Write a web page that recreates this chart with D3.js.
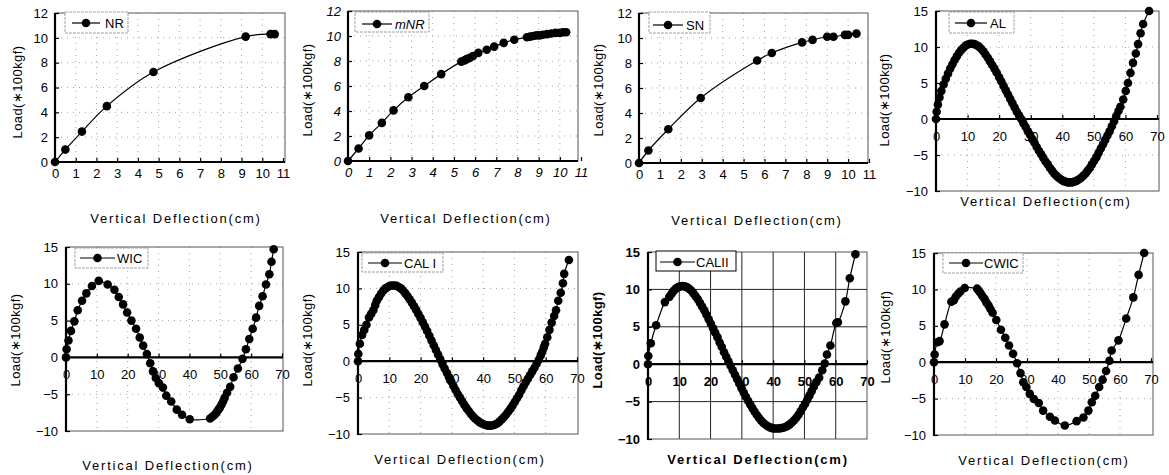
<!DOCTYPE html>
<html><head><meta charset="utf-8">
<script src="https://cdn.jsdelivr.net/npm/d3@7"></script>
<style>
body{margin:0;background:#fff;}
svg text{font-family:"Liberation Sans",Arial,sans-serif;fill:#000;}
</style></head><body>
<svg id="c" width="1169" height="475"></svg>
<script>
// ---------- tick values ----------
const xTicksSmall=[0,1,2,3,4,5,6,7,8,9,10,11];
const yTicksSmall=[0,2,4,6,8,10,12];
const xTicksCyc=[0,10,20,30,40,50,60,70];
const yTicksCyc=[-10,-5,0,5,10,15];
const xTitle="Vertical Deflection(cm)";
const yTitle="Load(\u2217100kgf)";

// ---------- series (deflection cm, load *100kgf) ----------
const NR=[[0,0],[0.5,1.0],[1.3,2.45],[2.5,4.5],[4.75,7.25],[9.2,10.1],[10.4,10.3],[10.6,10.3]];
const mNR=[[0,0],[0.5,1.0],[1.0,2.05],[1.6,3.05],[2.15,4.05],[2.85,5.1],[3.6,6.0],[4.4,6.95],[5.35,7.95],[5.5,8.05],[5.6,8.15],[5.75,8.25],[5.9,8.4],[6.15,8.65],[6.55,8.9],[6.9,9.15],[7.35,9.45],[7.85,9.7],[8.45,9.9],[8.6,9.95],[8.75,10.0],[8.9,10.05],[9.05,10.05],[9.2,10.1],[9.4,10.15],[9.6,10.2],[9.8,10.25],[10.0,10.25],[10.15,10.3],[10.3,10.3]];
const SN=[[0,0],[0.45,1.0],[1.4,2.7],[2.95,5.2],[5.65,8.2],[6.35,8.8],[7.8,9.65],[8.3,9.85],[9.0,10.1],[9.3,10.1],[9.85,10.25],[10.0,10.25],[10.4,10.35]];
const AL=[[0,0],[0.2,1.0],[0.6,2.0],[1.1,3.0],[1.7,3.9],[2.4,4.8],[3.1,5.6],[3.8,6.3],[4.5,7.0],[5.2,7.6],[5.9,8.2],[6.6,8.7],[7.3,9.2],[8.0,9.6],[8.7,9.9],[9.4,10.2],[10.1,10.35],[10.8,10.45],[11.5,10.45],[12.2,10.4],[12.9,10.25],[13.6,10.05],[14.3,9.75],[15.0,9.4],[15.7,8.95],[16.4,8.5],[17.1,8.0],[17.8,7.5],[18.5,7.0],[19.2,6.45],[20.0,5.8],[20.7,5.2],[21.4,4.6],[22.1,4.0],[22.8,3.4],[23.5,2.8],[24.2,2.2],[24.9,1.6],[25.6,1.0],[26.3,0.5],[27.0,0.0],[27.7,-0.6],[28.4,-1.1],[29.1,-1.7],[29.8,-2.2],[30.5,-2.8],[31.2,-3.3],[31.9,-3.9],[32.6,-4.4],[33.3,-4.9],[34.0,-5.4],[34.7,-5.9],[35.4,-6.3],[36.1,-6.8],[36.8,-7.2],[37.5,-7.6],[38.2,-7.9],[38.9,-8.2],[39.6,-8.4],[40.3,-8.6],[41.0,-8.7],[41.7,-8.8],[42.4,-8.8],[43.1,-8.8],[43.8,-8.7],[44.5,-8.6],[45.2,-8.4],[45.9,-8.2],[46.6,-7.9],[47.3,-7.6],[48.0,-7.2],[48.7,-6.8],[49.4,-6.3],[50.1,-5.8],[50.8,-5.3],[51.5,-4.7],[52.2,-4.1],[52.9,-3.5],[53.6,-2.9],[54.3,-2.3],[55.0,-1.7],[55.7,-1.0],[56.4,-0.3],[57.1,0.4],[57.8,1.1],[58.4,1.7],[59.3,2.7],[60.1,3.9],[60.8,5.0],[61.6,6.4],[62.4,7.8],[63.3,9.1],[64.0,10.4],[64.8,11.9],[65.6,13.2],[67.5,15.0]];
const WIC=[[0,0],[0.2,1.1],[0.8,2.3],[1.6,3.6],[2.7,4.9],[3.8,6.4],[5.2,7.7],[6.6,8.7],[8.4,9.7],[10.6,10.4],[13.5,9.9],[15.7,9.2],[17.1,8.2],[18.5,7.2],[19.8,6.1],[21.2,5.0],[22.7,3.9],[23.9,2.7],[25.0,1.6],[26.2,0.45],[27.3,-0.8],[28.2,-1.9],[29.1,-2.8],[30.1,-3.5],[31.4,-4.1],[32.5,-5.2],[34.1,-6.0],[35.9,-7.1],[37.6,-7.8],[40.1,-8.4],[46.7,-8.3],[47.3,-8.1],[47.9,-7.9],[48.4,-7.7],[48.9,-7.4],[49.4,-7.1],[49.9,-6.8],[50.4,-6.4],[50.9,-6.0],[51.4,-5.5],[52.2,-4.8],[53.2,-4.0],[54.3,-2.7],[55.7,-1.5],[57.2,-0.2],[58.3,1.1],[59.4,2.5],[60.5,3.9],[61.6,5.4],[62.6,7.0],[63.7,8.3],[64.8,9.9],[65.9,11.3],[66.6,13.0],[67.3,14.7]];
const CALI=[[0,0],[0.1,1.0],[0.6,2.4],[1.3,3.6],[2.0,4.3],[2.7,5.0],[3.5,6.0],[4.2,6.5],[4.9,7.0],[5.5,7.7],[6.0,8.3],[6.7,8.8],[7.4,9.3],[8.1,9.7],[8.8,10.0],[9.5,10.2],[10.2,10.35],[10.9,10.4],[11.6,10.4],[12.3,10.35],[13.0,10.2],[13.7,10.0],[14.4,9.7],[15.1,9.35],[15.8,8.95],[16.5,8.5],[17.2,8.05],[17.9,7.55],[18.6,7.05],[19.3,6.5],[20.0,5.95],[20.7,5.35],[21.4,4.75],[22.1,4.15],[22.8,3.5],[23.5,2.85],[24.2,2.2],[24.9,1.55],[25.6,0.9],[26.3,0.25],[27.0,-0.4],[27.7,-1.0],[28.4,-1.6],[29.1,-2.2],[29.8,-2.8],[30.5,-3.4],[31.2,-3.95],[31.9,-4.5],[32.6,-5.0],[33.3,-5.5],[34.0,-6.0],[34.7,-6.45],[35.4,-6.85],[36.1,-7.25],[36.8,-7.6],[37.5,-7.9],[38.2,-8.15],[38.9,-8.4],[39.6,-8.55],[40.3,-8.7],[41.0,-8.8],[41.7,-8.85],[42.4,-8.85],[43.1,-8.8],[43.8,-8.7],[44.5,-8.55],[45.2,-8.3],[45.9,-8.0],[46.6,-7.7],[47.3,-7.35],[48.0,-6.95],[48.7,-6.55],[49.4,-6.1],[50.1,-5.6],[50.8,-5.1],[51.5,-4.6],[52.2,-4.0],[52.9,-3.45],[53.6,-2.9],[54.3,-2.4],[55.0,-1.9],[55.7,-1.4],[56.4,-0.9],[57.1,-0.35],[57.8,0.2],[58.4,0.8],[58.9,1.3],[59.4,1.9],[59.8,2.4],[60.5,3.3],[61.2,4.3],[61.9,5.3],[62.7,6.2],[63.3,7.0],[64.0,8.3],[64.8,9.4],[65.5,10.7],[65.9,12.0],[67.4,13.9]];
const CALII=[[0,0],[0.1,1.1],[0.9,2.8],[2.6,5.2],[5.4,8.3],[6.8,9.0],[7.5,9.4],[8.2,9.8],[8.9,10.1],[9.6,10.3],[10.3,10.4],[11.0,10.45],[11.7,10.4],[12.4,10.3],[13.1,10.1],[13.8,9.85],[14.5,9.5],[15.2,9.1],[15.9,8.7],[16.6,8.2],[17.3,7.7],[18.0,7.2],[18.7,6.6],[19.4,6.0],[20.1,5.4],[20.8,4.8],[21.5,4.2],[22.2,3.6],[22.9,2.9],[23.6,2.3],[24.3,1.6],[25.0,1.0],[25.7,0.4],[26.4,-0.2],[27.1,-0.8],[27.8,-1.4],[28.5,-2.0],[29.2,-2.6],[29.9,-3.2],[30.6,-3.8],[31.3,-4.35],[32.0,-4.9],[32.7,-5.4],[33.4,-5.9],[34.1,-6.35],[34.8,-6.8],[35.5,-7.2],[36.2,-7.55],[36.9,-7.85],[37.6,-8.1],[38.3,-8.3],[39.0,-8.45],[39.7,-8.55],[40.4,-8.6],[41.1,-8.6],[41.8,-8.6],[42.5,-8.55],[43.2,-8.5],[43.9,-8.4],[44.6,-8.25],[45.3,-8.05],[46.0,-7.8],[46.7,-7.5],[47.4,-7.15],[48.1,-6.75],[48.8,-6.3],[49.5,-5.8],[50.2,-5.3],[50.9,-4.75],[51.6,-4.2],[52.3,-3.6],[53.0,-3.0],[53.8,-2.4],[54.7,-1.8],[55.7,-0.8],[56.5,0.1],[57.2,1.3],[58.3,2.5],[60.2,5.5],[60.7,5.6],[63.1,8.4],[64.5,11.5],[66.3,14.7]];
const CWIC=[[0,0],[0.2,1.05],[1.1,2.75],[1.8,2.9],[3.4,5.2],[5.6,8.3],[6.4,8.5],[7.0,9.0],[7.8,9.4],[8.5,9.7],[9.9,10.2],[13.9,10.1],[14.5,9.8],[15.0,9.5],[15.6,9.1],[16.3,8.7],[16.9,8.2],[17.6,7.8],[18.2,7.3],[18.9,6.8],[20.1,5.8],[21.6,4.45],[23.0,3.35],[24.2,2.3],[25.5,1.15],[26.8,-0.15],[27.9,-1.5],[28.8,-2.75],[29.8,-3.4],[30.9,-4.35],[32.2,-5.05],[33.8,-5.6],[35.2,-6.65],[37.4,-7.5],[39.0,-8.0],[42.2,-8.7],[46.0,-8.1],[48.2,-7.6],[49.8,-6.65],[50.9,-5.5],[52.0,-4.6],[53.3,-3.4],[54.4,-2.4],[55.5,-1.2],[56.6,0.2],[57.3,1.6],[59.5,3.0],[62.0,6.0],[64.3,8.9],[66.0,12.0],[67.8,15.0]];

// ---------- layout ----------
const panels=[
 {name:"NR",data:NR,kind:"s",xr:[55,283],yr:[162,13],right:285,yl:[17,92],tl:[176,218],
  lg:{bx:65,by:12,bw:63,bh:21,l1:72,l2:100,ly:23,tx:105}},
 {name:"mNR",data:mNR,kind:"s",xr:[348,581],yr:[161,11],right:578,yl:[307,90],tl:[466,218],italic:true,
  lg:{bx:355,by:12,bw:74,bh:20,l1:362,l2:392,ly:24,tx:395}},
 {name:"SN",data:SN,kind:"s",xr:[639,869],yr:[163,13],right:868,yl:[598,90],tl:[757,220],
  lg:{bx:649,by:12,bw:61,bh:21,l1:653,l2:683,ly:25,tx:686}},
 {name:"AL",data:AL,kind:"c",xr:[936,1157],yr:[191,11],right:1159,yl:[884,100],tl:[1046,201],
  lg:{bx:949,by:12,bw:65,bh:21,l1:955,l2:987,ly:23,tx:990}},
 {name:"WIC",data:WIC,kind:"c",xr:[66,282],yr:[431,247],right:283,yl:[15,340],tl:[168,465],
  lg:{bx:75,by:248,bw:73,bh:20,l1:80,l2:115,ly:258,tx:117}},
 {name:"CAL I",data:CALI,kind:"c",xr:[358,577],yr:[434,252],right:578,yl:[307,340],tl:[460,459],
  lg:{bx:362,by:253,bw:81,bh:19,l1:368,l2:402,ly:263,tx:404}},
 {name:"CALII",data:CALII,kind:"c",xr:[648,867],yr:[439,252],right:867,yl:[597,340],tl:[758,459],bold:true,solid:true,
  lg:{bx:656,by:251,bw:80,bh:20,l1:660,l2:695,ly:262,tx:696}},
 {name:"CWIC",data:CWIC,kind:"c",xr:[934,1151],yr:[435,253],right:1153,yl:[885,337],tl:[1044,460],
  lg:{bx:943,by:253,bw:80,bh:20,l1:949,l2:983,ly:263,tx:984}}
];

const svg=d3.select("#c");
const R=4.3;

panels.forEach(p=>{
  const isS=p.kind==="s";
  const xd=isS?[0,11]:[0,70], yd=isS?[0,12]:[-10,15];
  const xs=d3.scaleLinear().domain(xd).range(p.xr);
  const ys=d3.scaleLinear().domain(yd).range(p.yr);
  const xt=isS?xTicksSmall:xTicksCyc, yt=isS?yTicksSmall:yTicksCyc;
  const left=p.xr[0], right=p.right, top=ys(yd[1]), bottom=ys(yd[0]);
  const zeroY=ys(0);
  const fw=p.bold?"bold":"normal";
  const g=svg.append("g");

  // grid
  const gridStroke=p.solid?"#222":"#9a9a9a";
  const gridDash=p.solid?null:"1,5";
  g.selectAll("line.gx").data(xt.filter(v=>v>xd[0]&&xs(v)<right-3)).join("line")
    .attr("x1",d=>xs(d)).attr("x2",d=>xs(d)).attr("y1",top).attr("y2",bottom)
    .attr("stroke",gridStroke).attr("stroke-width",p.solid?1:0.9).attr("stroke-dasharray",gridDash);
  g.selectAll("line.gy").data(yt.filter(v=>v>yd[0]&&v<yd[1]&&v!==0)).join("line")
    .attr("x1",left).attr("x2",right).attr("y1",d=>ys(d)).attr("y2",d=>ys(d))
    .attr("stroke",gridStroke).attr("stroke-width",p.solid?1:0.9).attr("stroke-dasharray",gridDash);

  // plot border
  g.append("rect").attr("x",left).attr("y",top).attr("width",right-left).attr("height",bottom-top)
    .attr("fill","none").attr("stroke","#555").attr("stroke-width",1);

  // axes
  const ax=g.append("g").attr("transform",`translate(0,${zeroY})`)
    .call(d3.axisBottom(xs).tickValues(xt).tickSize(-4).tickPadding(isS?6.5:12.5));
  const ay=g.append("g").attr("transform",`translate(${left},0)`)
    .call(d3.axisLeft(ys).tickValues(yt).tickSize(-4).tickPadding(isS?7:8));
  [ax,ay].forEach(a=>{
    a.select(".domain").remove();
    a.attr("font-family",null).attr("font-size",null);
    a.selectAll("line").attr("stroke","#000").attr("stroke-width",1.2);
    a.selectAll("text").style("font-size","13px").style("font-weight",fw)
      .style("font-style",p.italic?"italic":"normal").attr("fill","#000");
  });

  // thick axis lines
  g.append("line").attr("x1",left).attr("x2",left).attr("y1",top).attr("y2",bottom+1)
    .attr("stroke","#000").attr("stroke-width",2.2);
  g.append("line").attr("x1",left).attr("x2",right).attr("y1",zeroY).attr("y2",zeroY)
    .attr("stroke","#000").attr("stroke-width",2.2);

  // series line + markers
  const line=d3.line().x(d=>xs(d[0])).y(d=>ys(d[1])).curve(d3.curveCatmullRom.alpha(0.5));
  g.append("path").datum(p.data).attr("d",line).attr("fill","none")
    .attr("stroke","#000").attr("stroke-width",1.2);
  g.selectAll("circle.m").data(p.data).join("circle")
    .attr("cx",d=>xs(d[0])).attr("cy",d=>ys(d[1])).attr("r",R).attr("fill","#000");

  // legend
  const L=p.lg;
  g.append("rect").attr("x",L.bx).attr("y",L.by).attr("width",L.bw).attr("height",L.bh)
    .attr("fill","#fff").attr("stroke",p.solid?"#000":"#888").attr("stroke-width",p.solid?1:0.8)
    .attr("stroke-dasharray",p.solid?null:"3,1");
  g.append("line").attr("x1",L.l1).attr("x2",L.l2).attr("y1",L.ly).attr("y2",L.ly)
    .attr("stroke","#000").attr("stroke-width",1.2);
  g.append("circle").attr("cx",(L.l1+L.l2)/2).attr("cy",L.ly).attr("r",R).attr("fill","#000");
  g.append("text").attr("x",L.tx).attr("y",L.ly).attr("dy","0.35em")
    .style("font-size","13px").style("font-style",p.italic?"italic":"normal").text(p.name);

  // titles
  g.append("text").attr("x",p.tl[0]).attr("y",p.tl[1]).attr("dy","0.35em").attr("text-anchor","middle")
    .style("font-size","13px").style("letter-spacing","1.8px").style("font-weight",fw).text(xTitle);
  g.append("text").attr("transform",`translate(${p.yl[0]},${p.yl[1]}) rotate(-90)`)
    .attr("dy","0.35em").attr("text-anchor","middle")
    .style("font-size","13px").style("letter-spacing","0.4px").style("font-weight",fw).text(yTitle);
});
</script>
</body></html>
